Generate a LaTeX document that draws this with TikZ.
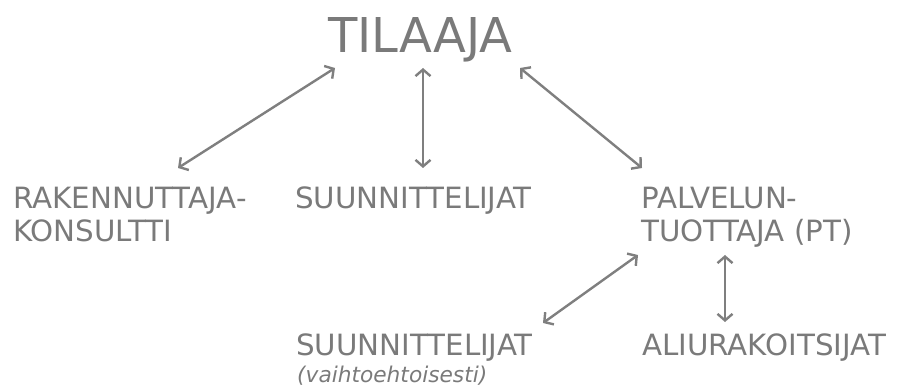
\documentclass[tikz,border=0pt]{standalone}
\usepackage{fontspec}
\setmainfont{DejaVu Sans}
\usetikzlibrary{arrows.meta}
\definecolor{txtgray}{HTML}{7A7A7A}
\definecolor{arrgray}{HTML}{7F7F7F}
\tikzset{
  lbl/.style={anchor=base west, inner sep=0pt, text=txtgray, font=\fontsize{29.3}{32}\selectfont},
  bigl/.style={anchor=base west, inner sep=0pt, text=txtgray, font=\fontsize{48}{50}\selectfont},
  smalll/.style={anchor=base west, inner sep=0pt, text=txtgray, font=\fontsize{21.7}{24}\selectfont\itshape},
  link/.style={draw=arrgray, line width=2.4pt, {Straight Barb[length=6.5pt,width=15pt]}-{Straight Barb[length=6.5pt,width=15pt]}}
}
\begin{document}
\begin{tikzpicture}[x=1pt,y=-1pt]
\useasboundingbox (0,0) rectangle (897,390);
\node[bigl] (tilaaja) at (328,53) {TILAAJA};
\node[lbl] (rak1) at (13,209) {RAKENNUTTAJA-};
\node[lbl] (rak2) at (13,241) {KONSULTTI};
\node[lbl] (suun1) at (295,209) {SUUNNITTELIJAT};
\node[lbl] (pal1) at (641,209) {PALVELUN-};
\node[lbl] (pal2) at (641,241) {TUOTTAJA (PT)};
\node[lbl] (suun2) at (296,355) {SUUNNITTELIJAT};
\node[smalll] (vaiht) at (297,382) {(vaihtoehtoisesti)};
\node[lbl] (aliu) at (642,355) {ALIURAKOITSIJAT};
\coordinate (t1) at (335,68);
\coordinate (t2) at (423,68);
\coordinate (t3) at (520,68);
\coordinate (r) at (178,168);
\coordinate (s) at (423,168);
\coordinate (p) at (642,168);
\coordinate (p1) at (638,255);
\coordinate (p2) at (725,255);
\coordinate (s2) at (543,323);
\coordinate (a) at (725,322);
\draw[link] (t1) -- (r);
\draw[link] (t2) -- (s);
\draw[link] (t3) -- (p);
\draw[link] (p1) -- (s2);
\draw[link] (p2) -- (a);
\end{tikzpicture}
\end{document}
